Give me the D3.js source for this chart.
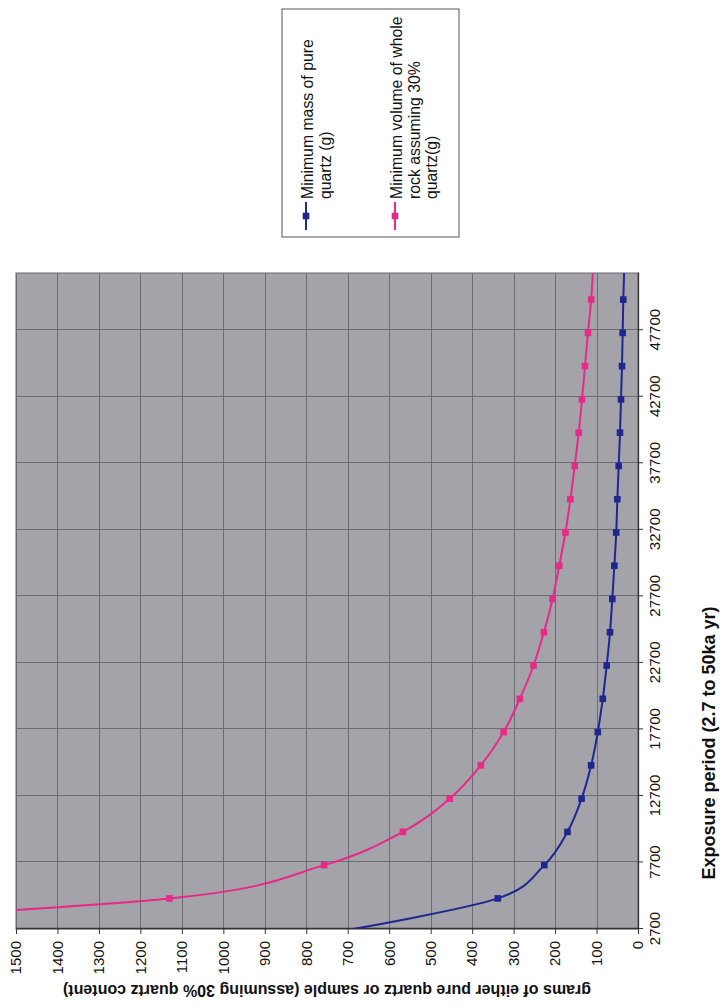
<!DOCTYPE html>
<html>
<head>
<meta charset="utf-8">
<script src="https://cdn.jsdelivr.net/npm/d3@7"></script>
<style>
  html, body { margin: 0; padding: 0; background: #fff; }
  svg { display: block; }
  text { font-family: "Liberation Sans", Arial, sans-serif; fill: #111; }
</style>
</head>
<body>
<svg id="chart" width="722" height="1006"></svg>
<script>
// Exposure period (years) and the two sample-size series
const years = [2700, 5000, 7500, 10000, 12500, 15000, 17500, 20000, 22500, 25000,
  27500, 30000, 32500, 35000, 37500, 40000, 42500, 45000, 47500, 50000, 52500];
const quartzMass = [687, 338, 226, 170, 136, 113, 97, 85, 75.5, 67.5,
  62, 57, 52.5, 49.8, 46.6, 43.4, 41, 38.6, 37, 35.4, 33];
const rockMass = [2290, 1130, 757, 567, 454, 379, 324, 285, 252, 227,
  206, 190, 175, 163, 152.7, 143, 135, 127.8, 120.6, 113, 108];

const yearTicks = [2700, 7700, 12700, 17700, 22700, 27700, 32700, 37700, 42700, 47700];
const gramTicks = [0, 100, 200, 300, 400, 500, 600, 700, 800, 900, 1000, 1100, 1200, 1300, 1400, 1500];

const seriesNames = ["Minimum mass of pure|quartz (g)", "Minimum volume of whole|rock assuming 30%|quartz(g)"];
const seriesColors = ["#1f2690", "#e62a88"];

const W = 1006, H = 722;           // landscape chart frame, turned a quarter turn on the page
const plot = { left: 77, right: 733, top: 16, bottom: 638 };

const svg = d3.select("#chart");
const g = svg.append("g").attr("transform", `translate(0,${W}) rotate(-90)`);

const x = d3.scaleLinear().domain([2700, 52000]).range([plot.left, plot.right]);
const y = d3.scaleLinear().domain([0, 1500]).range([plot.bottom, plot.top]);

// plot area
g.append("rect")
  .attr("x", plot.left).attr("y", plot.top)
  .attr("width", plot.right - plot.left).attr("height", plot.bottom - plot.top)
  .attr("fill", "#a4a3aa");

g.append("clipPath").attr("id", "plotClip").append("rect")
  .attr("x", plot.left).attr("y", plot.top)
  .attr("width", plot.right - plot.left).attr("height", plot.bottom - plot.top);

// gridlines
const grid = g.append("g").attr("stroke", "#6c6b76").attr("stroke-width", 1);
grid.selectAll("line.gx").data(yearTicks).join("line")
  .attr("x1", d => Math.round(x(d)) + 0.5).attr("x2", d => Math.round(x(d)) + 0.5)
  .attr("y1", plot.top).attr("y2", plot.bottom);
grid.selectAll("line.gy").data(gramTicks).join("line")
  .attr("y1", d => Math.round(y(d)) + 0.5).attr("y2", d => Math.round(y(d)) + 0.5)
  .attr("x1", plot.left).attr("x2", plot.right);

// plot border
g.append("rect")
  .attr("x", plot.left).attr("y", plot.top)
  .attr("width", plot.right - plot.left).attr("height", plot.bottom - plot.top)
  .attr("fill", "none").attr("stroke", "#6a6a70").attr("stroke-width", 1);

// axes
const xAxis = d3.axisBottom(x).tickValues(yearTicks).tickSize(5).tickSizeOuter(0)
  .tickPadding(6).tickFormat(d => String(d));
const yAxis = d3.axisLeft(y).tickValues(gramTicks).tickSize(5).tickSizeOuter(0)
  .tickPadding(7).tickFormat(d => String(d));

const gx = g.append("g").attr("transform", `translate(0,${plot.bottom})`).call(xAxis);
const gy = g.append("g").attr("transform", `translate(${plot.left},0)`).call(yAxis);
[gx, gy].forEach(a => {
  a.select(".domain").attr("stroke", "#333").attr("stroke-width", 1.3);
  a.selectAll(".tick line").attr("stroke", "#333");
  a.selectAll(".tick text").attr("font-size", 15).attr("fill", "#111")
    .attr("font-family", "'Liberation Sans', Arial, sans-serif");
});

// series
const line = d3.line().x((d, i) => x(years[i])).y(d => y(d)).curve(d3.curveCatmullRom.alpha(0));
const seriesData = [quartzMass, rockMass];
const marks = g.append("g").attr("clip-path", "url(#plotClip)");
seriesData.forEach((vals, si) => {
  marks.append("path").datum(vals)
    .attr("d", line)
    .attr("fill", "none").attr("stroke", seriesColors[si]).attr("stroke-width", 2);
  marks.selectAll(null).data(vals.slice(1)).join("rect")
    .attr("x", (d, i) => x(years[i + 1]) - 3.3)
    .attr("y", d => y(d) - 3.3)
    .attr("width", 6.6).attr("height", 6.6)
    .attr("fill", seriesColors[si]);
});

// axis titles
g.append("text")
  .attr("transform", `translate(21,${(plot.top + plot.bottom) / 2}) rotate(-90)`)
  .attr("text-anchor", "middle").attr("font-size", 16).attr("font-weight", "bold")
  .text("grams of either pure quartz or sample (assuming 30% quartz content)");

g.append("text")
  .attr("x", 263).attr("y", 715)
  .attr("text-anchor", "middle").attr("font-size", 18).attr("font-weight", "bold")
  .text("Exposure period (2.7 to 50ka yr)");

// legend
const lg = g.append("g");
lg.append("rect").attr("x", 769).attr("y", 282).attr("width", 228).attr("height", 177)
  .attr("fill", "#fff").attr("stroke", "#555").attr("stroke-width", 1);
const entryY = [306, 395];
seriesNames.forEach((name, si) => {
  const cy = entryY[si];
  lg.append("line").attr("x1", 776).attr("x2", 804).attr("y1", cy).attr("y2", cy)
    .attr("stroke", seriesColors[si]).attr("stroke-width", 2);
  lg.append("rect").attr("x", 790 - 3.3).attr("y", cy - 3.3).attr("width", 6.6).attr("height", 6.6)
    .attr("fill", seriesColors[si]);
  const t = lg.append("text").attr("x", 807).attr("y", cy + 7).attr("font-size", 15.8);
  name.split("|").forEach((part, k) => {
    t.append("tspan").attr("x", 807).attr("dy", k === 0 ? 0 : 17.5).text(part);
  });
});
</script>
</body>
</html>
